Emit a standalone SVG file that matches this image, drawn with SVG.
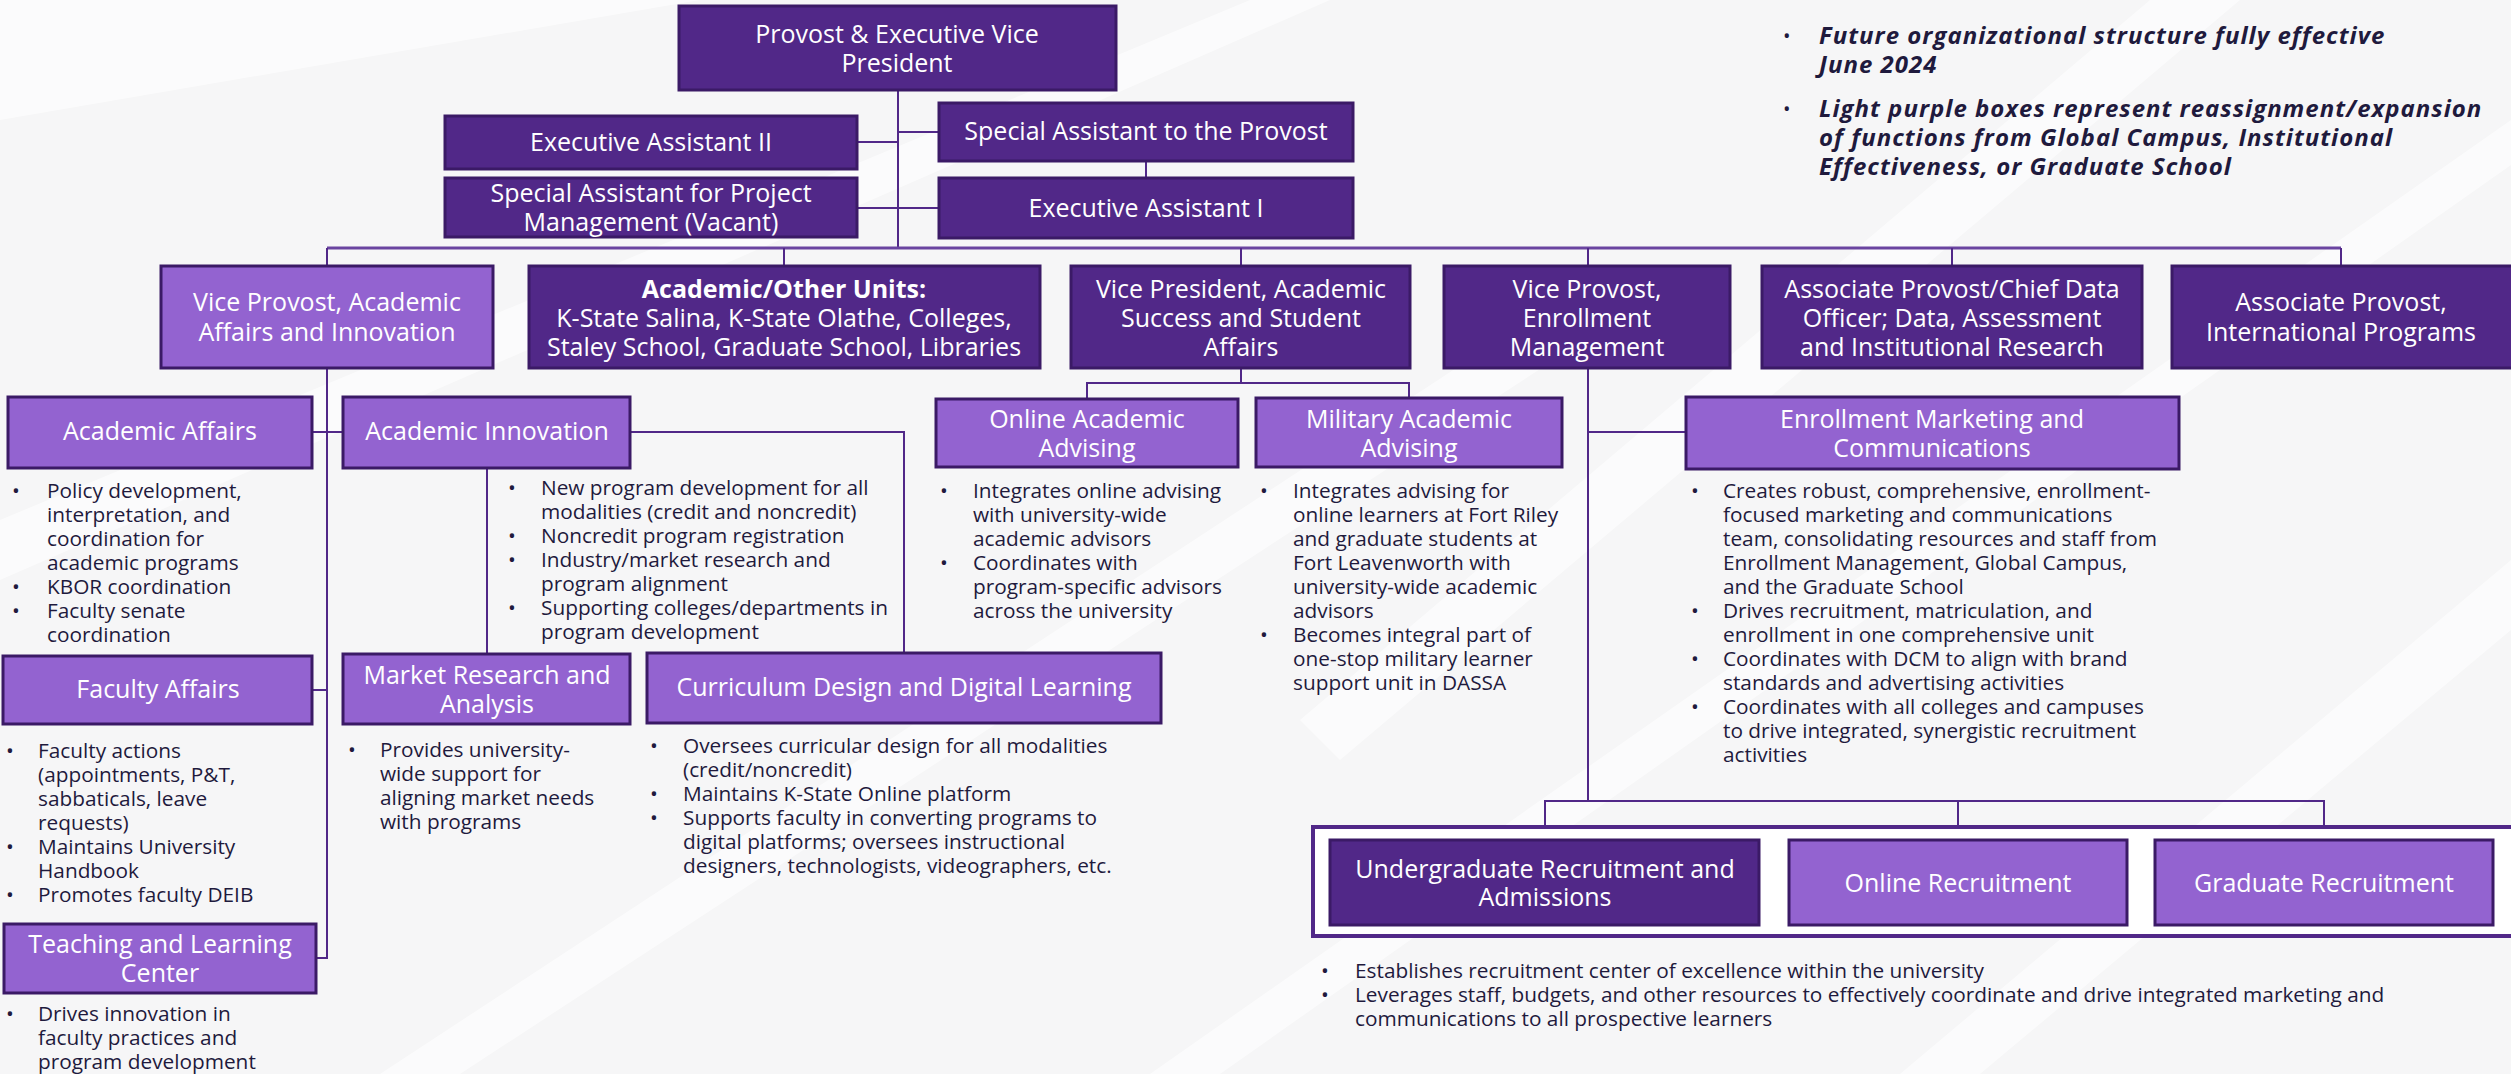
<svg xmlns="http://www.w3.org/2000/svg" width="2511" height="1074" viewBox="0 0 2511 1074">
<style>
.bg{fill:#f6f6f7}
.stripe{fill:#ffffff;opacity:0.6}
.dk{fill:#512888;stroke:#3b1a66;stroke-width:3}
.lt{fill:#9363d0;stroke:#3b1a66;stroke-width:3}
.bt{font-family:"Open Sans",Lato,"Liberation Sans",sans-serif;font-size:25px;fill:#ffffff;text-anchor:middle}
.b{font-weight:bold}
.tx{font-family:"Open Sans",Lato,"Liberation Sans",sans-serif;font-size:20.8px;fill:#1f1a3d}
.note{font-family:"Open Sans",Lato,"Liberation Sans",sans-serif;font-size:24px;letter-spacing:1px;font-weight:bold;font-style:italic;fill:#1f1a3d}
.dot{font-weight:normal;font-style:normal;font-size:20px;letter-spacing:0}
.cn{fill:none;stroke:#512888;stroke-width:2}
.bus{fill:none;stroke:#6a44a0;stroke-width:3}
.cont{fill:#ffffff;stroke:#512888;stroke-width:4}
</style>
<rect class="bg" x="0" y="0" width="2511" height="1074"/>
<g id="background">
<polygon class="stripe" points="0,0 700,0 0,120"/>
<polygon class="stripe" points="0,520 1250,0 1330,0 0,580"/>
<polygon class="stripe" points="1900,1074 2511,560 2511,630 1980,1074"/>
<polygon class="stripe" points="1150,1074 2511,120 2511,165 1220,1074"/>
<polygon class="stripe" points="2150,0 2240,0 1340,760 1300,720"/>
<polygon class="stripe" points="380,1074 1560,300 1600,330 460,1074"/>
</g>
<g id="connectors">
<path class="cn" d="M898,90 V248"/>
<path class="cn" d="M857,142 H898"/>
<path class="cn" d="M898,132 H939"/>
<path class="cn" d="M1146,161 V178"/>
<path class="cn" d="M857,208 H939"/>
<path class="bus" d="M327,248 H2341"/>
<path class="cn" d="M327,248 V266 M784,248 V266 M1241,248 V266 M1588,248 V266 M1952,248 V266 M2341,248 V266"/>
<path class="cn" d="M327,368 V958 H316"/>
<path class="cn" d="M312,432 H343"/>
<path class="cn" d="M312,690 H327"/>
<path class="cn" d="M487,468 V654"/>
<path class="cn" d="M630,432 H904 V653"/>
<path class="cn" d="M1241,368 V383 M1087,399 V383 H1409 V398"/>
<path class="cn" d="M1588,368 V801"/>
<path class="cn" d="M1588,432 H1686"/>
<path class="cn" d="M1545,840 V801 H2324 V840 M1958,801 V840"/>
</g>
<g id="recruitment-container">
<rect class="cont" x="1313" y="827" width="1230" height="109"/>
</g>
<g id="provost">
<rect class="dk" x="679" y="6" width="437" height="84"/>
<text class="bt" x="897" y="43">Provost &amp; Executive Vice</text>
<text class="bt" x="897" y="72">President</text>
</g>
<g id="exec-asst-2">
<rect class="dk" x="445" y="116" width="412" height="53"/>
<text class="bt" x="651" y="151">Executive Assistant II</text>
</g>
<g id="special-asst-provost">
<rect class="dk" x="939" y="103" width="414" height="58"/>
<text class="bt" x="1146" y="140">Special Assistant to the Provost</text>
</g>
<g id="special-asst-pm">
<rect class="dk" x="445" y="178" width="412" height="59"/>
<text class="bt" x="651" y="202">Special Assistant for Project</text>
<text class="bt" x="651" y="231">Management (Vacant)</text>
</g>
<g id="exec-asst-1">
<rect class="dk" x="939" y="178" width="414" height="60"/>
<text class="bt" x="1146" y="217">Executive Assistant I</text>
</g>
<g id="vp-aai">
<rect class="lt" x="161" y="266" width="332" height="102"/>
<text class="bt" x="327" y="311">Vice Provost, Academic</text>
<text class="bt" x="327" y="341">Affairs and Innovation</text>
</g>
<g id="academic-units">
<rect class="dk" x="529" y="266" width="511" height="102"/>
<text class="bt b" x="784" y="298">Academic/Other Units:</text>
<text class="bt" x="784" y="327">K-State Salina, K-State Olathe, Colleges,</text>
<text class="bt" x="784" y="356">Staley School, Graduate School, Libraries</text>
</g>
<g id="vp-assa">
<rect class="dk" x="1071" y="266" width="339" height="102"/>
<text class="bt" x="1241" y="298">Vice President, Academic</text>
<text class="bt" x="1241" y="327">Success and Student</text>
<text class="bt" x="1241" y="356">Affairs</text>
</g>
<g id="vp-em">
<rect class="dk" x="1444" y="266" width="286" height="102"/>
<text class="bt" x="1587" y="298">Vice Provost,</text>
<text class="bt" x="1587" y="327">Enrollment</text>
<text class="bt" x="1587" y="356">Management</text>
</g>
<g id="ap-cdo">
<rect class="dk" x="1762" y="266" width="380" height="102"/>
<text class="bt" x="1952" y="298">Associate Provost/Chief Data</text>
<text class="bt" x="1952" y="327">Officer; Data, Assessment</text>
<text class="bt" x="1952" y="356">and Institutional Research</text>
</g>
<g id="ap-intl">
<rect class="dk" x="2172" y="266" width="360" height="102"/>
<text class="bt" x="2341" y="311">Associate Provost,</text>
<text class="bt" x="2341" y="341">International Programs</text>
</g>
<g id="academic-affairs">
<rect class="lt" x="8" y="397" width="304" height="71"/>
<text class="bt" x="160" y="440">Academic Affairs</text>
<text class="tx"><tspan x="12" y="498">•</tspan><tspan x="47" y="498">Policy development,</tspan><tspan x="47" y="522">interpretation, and</tspan><tspan x="47" y="546">coordination for</tspan><tspan x="47" y="570">academic programs</tspan><tspan x="12" y="594">•</tspan><tspan x="47" y="594">KBOR coordination</tspan><tspan x="12" y="618">•</tspan><tspan x="47" y="618">Faculty senate</tspan><tspan x="47" y="642">coordination</tspan></text>
</g>
<g id="academic-innovation">
<rect class="lt" x="343" y="397" width="287" height="71"/>
<text class="bt" x="487" y="440">Academic Innovation</text>
<text class="tx"><tspan x="508" y="495">•</tspan><tspan x="541" y="495">New program development for all</tspan><tspan x="541" y="519">modalities (credit and noncredit)</tspan><tspan x="508" y="543">•</tspan><tspan x="541" y="543">Noncredit program registration</tspan><tspan x="508" y="567">•</tspan><tspan x="541" y="567">Industry/market research and</tspan><tspan x="541" y="591">program alignment</tspan><tspan x="508" y="615">•</tspan><tspan x="541" y="615">Supporting colleges/departments in</tspan><tspan x="541" y="639">program development</tspan></text>
</g>
<g id="faculty-affairs">
<rect class="lt" x="3" y="656" width="309" height="68"/>
<text class="bt" x="158" y="698">Faculty Affairs</text>
<text class="tx"><tspan x="6" y="758">•</tspan><tspan x="38" y="758">Faculty actions</tspan><tspan x="38" y="782">(appointments, P&amp;T,</tspan><tspan x="38" y="806">sabbaticals, leave</tspan><tspan x="38" y="830">requests)</tspan><tspan x="6" y="854">•</tspan><tspan x="38" y="854">Maintains University</tspan><tspan x="38" y="878">Handbook</tspan><tspan x="6" y="902">•</tspan><tspan x="38" y="902">Promotes faculty DEIB</tspan></text>
</g>
<g id="tlc">
<rect class="lt" x="4" y="924" width="312" height="69"/>
<text class="bt" x="160" y="953">Teaching and Learning</text>
<text class="bt" x="160" y="982">Center</text>
<text class="tx"><tspan x="6" y="1021">•</tspan><tspan x="38" y="1021">Drives innovation in</tspan><tspan x="38" y="1045">faculty practices and</tspan><tspan x="38" y="1069">program development</tspan></text>
</g>
<g id="market-research">
<rect class="lt" x="343" y="654" width="287" height="70"/>
<text class="bt" x="487" y="684">Market Research and</text>
<text class="bt" x="487" y="713">Analysis</text>
<text class="tx"><tspan x="348" y="757">•</tspan><tspan x="380" y="757">Provides university-</tspan><tspan x="380" y="781">wide support for</tspan><tspan x="380" y="805">aligning market needs</tspan><tspan x="380" y="829">with programs</tspan></text>
</g>
<g id="curriculum-design">
<rect class="lt" x="647" y="653" width="514" height="70"/>
<text class="bt" x="904" y="696">Curriculum Design and Digital Learning</text>
<text class="tx"><tspan x="650" y="753">•</tspan><tspan x="683" y="753">Oversees curricular design for all modalities</tspan><tspan x="683" y="777">(credit/noncredit)</tspan><tspan x="650" y="801">•</tspan><tspan x="683" y="801">Maintains K-State Online platform</tspan><tspan x="650" y="825">•</tspan><tspan x="683" y="825">Supports faculty in converting programs to</tspan><tspan x="683" y="849">digital platforms; oversees instructional</tspan><tspan x="683" y="873">designers, technologists, videographers, etc.</tspan></text>
</g>
<g id="online-advising">
<rect class="lt" x="936" y="399" width="302" height="68"/>
<text class="bt" x="1087" y="428">Online Academic</text>
<text class="bt" x="1087" y="457">Advising</text>
<text class="tx"><tspan x="940" y="498">•</tspan><tspan x="973" y="498">Integrates online advising</tspan><tspan x="973" y="522">with university-wide</tspan><tspan x="973" y="546">academic advisors</tspan><tspan x="940" y="570">•</tspan><tspan x="973" y="570">Coordinates with</tspan><tspan x="973" y="594">program-specific advisors</tspan><tspan x="973" y="618">across the university</tspan></text>
</g>
<g id="military-advising">
<rect class="lt" x="1256" y="398" width="306" height="69"/>
<text class="bt" x="1409" y="428">Military Academic</text>
<text class="bt" x="1409" y="457">Advising</text>
<text class="tx"><tspan x="1260" y="498">•</tspan><tspan x="1293" y="498">Integrates advising for</tspan><tspan x="1293" y="522">online learners at Fort Riley</tspan><tspan x="1293" y="546">and graduate students at</tspan><tspan x="1293" y="570">Fort Leavenworth with</tspan><tspan x="1293" y="594">university-wide academic</tspan><tspan x="1293" y="618">advisors</tspan><tspan x="1260" y="642">•</tspan><tspan x="1293" y="642">Becomes integral part of</tspan><tspan x="1293" y="666">one-stop military learner</tspan><tspan x="1293" y="690">support unit in DASSA</tspan></text>
</g>
<g id="enrollment-marketing">
<rect class="lt" x="1686" y="397" width="493" height="72"/>
<text class="bt" x="1932" y="428">Enrollment Marketing and</text>
<text class="bt" x="1932" y="457">Communications</text>
<text class="tx"><tspan x="1691" y="498">•</tspan><tspan x="1723" y="498">Creates robust, comprehensive, enrollment-</tspan><tspan x="1723" y="522">focused marketing and communications</tspan><tspan x="1723" y="546">team, consolidating resources and staff from</tspan><tspan x="1723" y="570">Enrollment Management, Global Campus,</tspan><tspan x="1723" y="594">and the Graduate School</tspan><tspan x="1691" y="618">•</tspan><tspan x="1723" y="618">Drives recruitment, matriculation, and</tspan><tspan x="1723" y="642">enrollment in one comprehensive unit</tspan><tspan x="1691" y="666">•</tspan><tspan x="1723" y="666">Coordinates with DCM to align with brand</tspan><tspan x="1723" y="690">standards and advertising activities</tspan><tspan x="1691" y="714">•</tspan><tspan x="1723" y="714">Coordinates with all colleges and campuses</tspan><tspan x="1723" y="738">to drive integrated, synergistic recruitment</tspan><tspan x="1723" y="762">activities</tspan></text>
</g>
<g id="undergrad-recruitment">
<rect class="dk" x="1330" y="840" width="429" height="85"/>
<text class="bt" x="1545" y="878">Undergraduate Recruitment and</text>
<text class="bt" x="1545" y="906">Admissions</text>
</g>
<g id="online-recruitment">
<rect class="lt" x="1789" y="840" width="338" height="85"/>
<text class="bt" x="1958" y="892">Online Recruitment</text>
</g>
<g id="graduate-recruitment">
<rect class="lt" x="2155" y="840" width="338" height="85"/>
<text class="bt" x="2324" y="892">Graduate Recruitment</text>
</g>
<g id="recruitment-notes">
<text class="tx"><tspan x="1321" y="978">•</tspan><tspan x="1355" y="978">Establishes recruitment center of excellence within the university</tspan><tspan x="1321" y="1002">•</tspan><tspan x="1355" y="1002">Leverages staff, budgets, and other resources to effectively coordinate and drive integrated marketing and</tspan><tspan x="1355" y="1026">communications to all prospective learners</tspan></text>
</g>
<g id="notes">
<text class="note"><tspan class="dot" x="1783" y="43">•</tspan><tspan x="1819" y="44">Future organizational structure fully effective</tspan><tspan x="1819" y="73">June 2024</tspan><tspan class="dot" x="1783" y="116">•</tspan><tspan x="1819" y="117">Light purple boxes represent reassignment/expansion</tspan><tspan x="1819" y="146">of functions from Global Campus, Institutional</tspan><tspan x="1819" y="175">Effectiveness, or Graduate School</tspan></text>
</g>
</svg>
